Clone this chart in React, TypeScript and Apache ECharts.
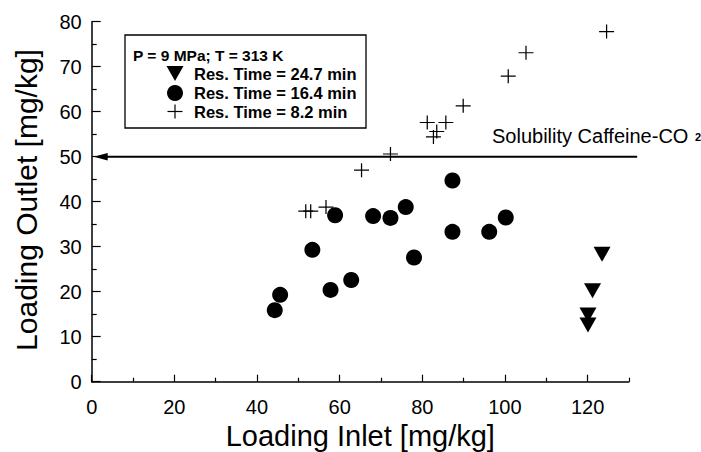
import React, { useEffect, useRef } from "react";
import * as echarts from "echarts";

// ---- data ----
const xTickValues = [0, 20, 40, 60, 80, 100, 120];
const xMinorTickValues = [10, 30, 50, 70, 90, 110, 130];
const yTickValues = [0, 10, 20, 30, 40, 50, 60, 70, 80];

// Res. Time = 24.7 min (down triangles)
const res247X = [120.1, 120.1, 121.2, 123.5];
const res247Y = [12.6, 14.8, 20.2, 28.3];

// Res. Time = 16.4 min (circles)
const res164X = [44.3, 45.6, 53.4, 57.8, 58.9, 62.8, 68.1, 72.3, 76.0, 78.0, 87.3, 87.3, 96.2, 100.2];
const res164Y = [15.9, 19.3, 29.3, 20.4, 37.0, 22.6, 36.8, 36.4, 38.8, 27.6, 44.7, 33.3, 33.3, 36.5];

// Res. Time = 8.2 min (crosses)
const res82X = [51.8, 53.0, 56.7, 65.3, 72.3, 81.2, 82.7, 83.5, 85.7, 89.9, 100.8, 105.1, 124.6];
const res82Y = [37.9, 37.9, 38.8, 47.0, 50.6, 57.6, 54.4, 55.6, 57.6, 61.3, 67.9, 73.1, 77.8];

const solubilityValue = 50;
const solubilityLineEndX = 132;

const legendHeader = "P = 9 MPa; T = 313 K";
const legendLabels = ["Res. Time = 24.7 min", "Res. Time = 16.4 min", "Res. Time = 8.2 min"];
const xTitle = "Loading Inlet [mg/kg]";
const yTitle = "Loading Outlet [mg/kg]";
const solubilityLabel = "Solubility Caffeine-CO";
const solubilitySub = "2";

const FONT = '"Liberation Sans", Arial, Helvetica, sans-serif';
const CROSS = "path://M0,7L15,7M7.5,0L7.5,14";

const zip = (xs: number[], ys: number[]) => xs.map((x, i) => [x, ys[i]]);

export default function App() {
  const ref = useRef<HTMLDivElement>(null);

  useEffect(() => {
    if (!ref.current) return;
    const chart = echarts.init(ref.current, undefined, { renderer: "svg" });

    const axisLine = { show: true, lineStyle: { color: "#000", width: 1.5 } };

    chart.setOption({
      animation: false,
      backgroundColor: "#fff",
      grid: { left: 91.7, right: 72.1, top: 21.7, bottom: 70.3, containLabel: false, outerBoundsMode: "none" },
      xAxis: [
        {
          type: "value",
          min: 0,
          max: 130,
          interval: 20,
          axisLine,
          splitLine: { show: false },
          axisTick: { show: true, inside: true, length: 7, customValues: xTickValues, lineStyle: { color: "#000", width: 1.2 } },
          axisLabel: { show: true, customValues: xTickValues, margin: 15, color: "#000", fontSize: 20, fontFamily: FONT },
          name: xTitle,
          nameLocation: "middle",
          nameGap: 38,
          nameTextStyle: { color: "#000", fontSize: 29, fontFamily: FONT },
        },
        {
          type: "value",
          min: 0,
          max: 130,
          interval: 10,
          position: "bottom",
          axisLine: { show: false },
          splitLine: { show: false },
          axisTick: { show: true, inside: true, length: 4, customValues: xMinorTickValues, lineStyle: { color: "#000", width: 1.2 } },
          axisLabel: { show: false },
        },
      ],
      yAxis: {
        type: "value",
        min: 0,
        max: 80,
        interval: 10,
        axisLine,
        splitLine: { show: false },
        axisTick: { show: true, inside: true, length: 9, customValues: yTickValues, lineStyle: { color: "#000", width: 1.2 } },
        minorTick: { show: true, splitNumber: 2, length: 5, lineStyle: { color: "#000", width: 1.2 } },
        minorSplitLine: { show: false },
        axisLabel: { show: true, customValues: yTickValues, margin: 10, color: "#000", fontSize: 20, fontFamily: FONT },
      },
      series: [
        {
          name: legendLabels[0],
          type: "scatter",
          data: zip(res247X, res247Y),
          symbol: "triangle",
          symbolRotate: 180,
          symbolSize: [17, 15],
          itemStyle: { color: "#000", opacity: 1 },
        },
        {
          name: legendLabels[1],
          type: "scatter",
          data: zip(res164X, res164Y),
          symbol: "circle",
          symbolSize: 16,
          itemStyle: { color: "#000", opacity: 1 },
        },
        {
          name: legendLabels[2],
          type: "scatter",
          data: zip(res82X, res82Y),
          symbol: CROSS,
          symbolSize: [15, 14],
          itemStyle: { color: "none", borderColor: "#000", borderWidth: 1.2, opacity: 1 },
        },
      ],
    });

    const p0 = chart.convertToPixel({ xAxisIndex: 0, yAxisIndex: 0 }, [0, solubilityValue]) as number[];
    const p1 = chart.convertToPixel({ xAxisIndex: 0, yAxisIndex: 0 }, [solubilityLineEndX, solubilityValue]) as number[];
    const ly = p0[1];
    const tipX = p0[0] + 2;

    const legendRowY = [73.5, 93, 111.5];
    const symX = 175;

    chart.setOption({
      graphic: [
        // y axis title
        {
          type: "text",
          x: 26,
          y: 200,
          rotation: Math.PI / 2,
          style: { text: yTitle, fontSize: 30, fontFamily: FONT, fill: "#000", align: "center", verticalAlign: "middle" },
        },
        // legend box
        {
          type: "rect",
          shape: { x: 125, y: 35, width: 241, height: 93 },
          style: { fill: "#fff", stroke: "#000", lineWidth: 1.3 },
          z: 10,
        },
        {
          type: "text",
          x: 133,
          y: 55,
          z: 11,
          style: { text: legendHeader, fontSize: 15.5, fontWeight: "bold", fontFamily: FONT, fill: "#000", align: "left", verticalAlign: "middle" },
        },
        {
          type: "polygon",
          z: 11,
          shape: { points: [[symX - 8.5, legendRowY[0] - 7.5], [symX + 8.5, legendRowY[0] - 7.5], [symX, legendRowY[0] + 7.5]] },
          style: { fill: "#000" },
        },
        {
          type: "circle",
          z: 11,
          shape: { cx: symX, cy: legendRowY[1], r: 8 },
          style: { fill: "#000" },
        },
        {
          type: "line",
          z: 11,
          shape: { x1: symX - 7.5, y1: legendRowY[2], x2: symX + 7.5, y2: legendRowY[2] },
          style: { stroke: "#000", lineWidth: 1.2 },
        },
        {
          type: "line",
          z: 11,
          shape: { x1: symX, y1: legendRowY[2] - 7, x2: symX, y2: legendRowY[2] + 7 },
          style: { stroke: "#000", lineWidth: 1.2 },
        },
        ...legendLabels.map((t, i) => ({
          type: "text",
          x: 194,
          y: legendRowY[i],
          z: 11,
          style: { text: t, fontSize: 16.5, fontWeight: "bold", fontFamily: FONT, fill: "#000", align: "left", verticalAlign: "middle" },
        })),
        // solubility line with arrow
        {
          type: "line",
          shape: { x1: tipX + 6, y1: ly, x2: p1[0], y2: ly },
          style: { stroke: "#000", lineWidth: 2 },
        },
        {
          type: "polygon",
          shape: { points: [[tipX, ly], [tipX + 14, ly - 3.8], [tipX + 14, ly + 3.8]] },
          style: { fill: "#000" },
        },
        {
          type: "text",
          x: 492,
          y: 135.5,
          style: { text: solubilityLabel, fontSize: 20, fontFamily: FONT, fill: "#000", align: "left", verticalAlign: "middle" },
        },
        {
          type: "text",
          x: 695,
          y: 137,
          style: { text: solubilitySub, fontSize: 11, fontFamily: FONT, fontWeight: "bold", fill: "#000", align: "left", verticalAlign: "middle" },
        },
      ],
    });

    return () => chart.dispose();
  }, []);

  return (
    <div
      ref={ref}
      style={{ position: "fixed", left: 0, top: 0, width: 701, height: 452, background: "#fff" }}
    />
  );
}
